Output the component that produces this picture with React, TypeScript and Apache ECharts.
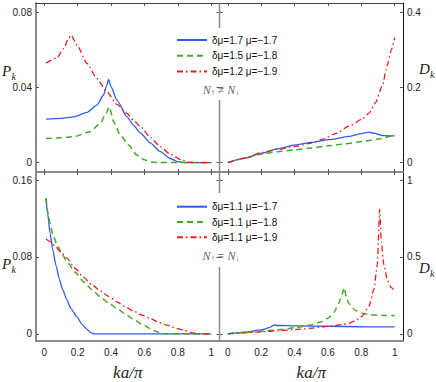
import React, { useEffect, useRef } from "react";
import * as echarts from "echarts";

const TOP_NAMES = ["δμ=1.7 μ=−1.7", "δμ=1.5 μ=−1.8", "δμ=1.2 μ=−1.9"];
const BOTTOM_NAMES = ["δμ=1.1 μ=−1.7", "δμ=1.1 μ=−1.8", "δμ=1.1 μ=−1.9"];
const X_TICKS = [0, 0.2, 0.4, 0.6, 0.8, 1];
const P_TOP_TICKS = [0, 0.04, 0.08];
const D_TOP_TICKS = [0, 0.2, 0.4];
const P_BOTTOM_TICKS = [0, 0.08, 0.16];
const D_BOTTOM_TICKS = [0, 0.5, 1];

// Top panel, P_k (N↑ ≠ N↓)
const pTopBlue: [number, number][] = [
  [0.01, 0.0232], [0.1, 0.0236], [0.176, 0.0244], [0.256, 0.0268], [0.315, 0.0306],
  [0.355, 0.036], [0.375, 0.0413], [0.385, 0.0443], [0.4, 0.0404], [0.435, 0.0333],
  [0.495, 0.0245], [0.535, 0.0198], [0.575, 0.0158], [0.635, 0.0105], [0.695, 0.0058],
  [0.755, 0.0022], [0.8, 0.0005], [0.84, 0], [1.0, 0],
];
const pTopGreen: [number, number][] = [
  [0.01, 0.0129], [0.1, 0.0132], [0.176, 0.0138], [0.275, 0.0164], [0.335, 0.0209],
  [0.365, 0.0253], [0.39, 0.0297], [0.415, 0.0218], [0.455, 0.0147], [0.505, 0.0094],
  [0.555, 0.004], [0.6, 0.0015], [0.64, 0.0003], [0.68, 0], [1.0, 0],
];
const pTopRed: [number, number][] = [
  [0.01, 0.0531], [0.076, 0.0558], [0.116, 0.0608], [0.146, 0.0664], [0.16, 0.0679],
  [0.196, 0.0626], [0.256, 0.0528], [0.315, 0.0448], [0.375, 0.0377], [0.435, 0.031],
  [0.495, 0.0262], [0.535, 0.0225], [0.575, 0.0193], [0.635, 0.0135], [0.695, 0.0085],
  [0.755, 0.0045], [0.82, 0.0015], [0.87, 0.0002], [0.9, 0], [1.0, 0],
];
// Top panel, D_k
const dTopBlue: [number, number][] = [
  [0.0, 0], [0.1, 0.012], [0.206, 0.025], [0.3, 0.037], [0.406, 0.047], [0.5, 0.054],
  [0.606, 0.061], [0.726, 0.07], [0.8, 0.077], [0.846, 0.081], [0.88, 0.078],
  [0.926, 0.072], [1.0, 0.071],
];
const dTopGreen: [number, number][] = [
  [0.0, 0], [0.1, 0.011], [0.206, 0.023], [0.3, 0.029], [0.406, 0.034], [0.5, 0.039],
  [0.606, 0.045], [0.706, 0.05], [0.806, 0.056], [0.9, 0.063], [1.0, 0.074],
];
const dTopRed: [number, number][] = [
  [0.0, 0], [0.1, 0.012], [0.206, 0.027], [0.3, 0.035], [0.406, 0.043], [0.5, 0.052],
  [0.566, 0.062], [0.65, 0.078], [0.726, 0.097], [0.806, 0.116], [0.846, 0.132],
  [0.886, 0.16], [0.926, 0.205], [0.956, 0.26], [0.98, 0.3], [1.0, 0.333],
];
// Bottom panel, P_k (N↑ = N↓)
const pBotBlue: [number, number][] = [
  [0.01, 0.141], [0.02, 0.125], [0.035, 0.104], [0.05, 0.088], [0.07, 0.071],
  [0.09, 0.057], [0.11, 0.046], [0.136, 0.035], [0.16, 0.026], [0.196, 0.0177],
  [0.225, 0.01], [0.256, 0.0046], [0.28, 0.001], [0.3, 0], [1.0, 0],
];
const pBotGreen: [number, number][] = [
  [0.01, 0.141], [0.02, 0.127], [0.034, 0.115], [0.05, 0.104], [0.074, 0.094],
  [0.1, 0.085], [0.136, 0.075], [0.186, 0.064], [0.236, 0.054], [0.285, 0.046],
  [0.335, 0.0385], [0.385, 0.032], [0.435, 0.0264], [0.485, 0.0205], [0.535, 0.015],
  [0.585, 0.01], [0.635, 0.0056], [0.67, 0.0025], [0.7, 0.0005], [0.72, 0], [1.0, 0],
];
const pBotRed: [number, number][] = [
  [0.01, 0.099], [0.034, 0.096], [0.07, 0.09], [0.1, 0.085], [0.136, 0.0785],
  [0.186, 0.068], [0.236, 0.0587], [0.285, 0.051], [0.335, 0.0448], [0.385, 0.039],
  [0.435, 0.0333], [0.485, 0.028], [0.535, 0.0236], [0.585, 0.0195], [0.635, 0.016],
  [0.685, 0.012], [0.735, 0.009], [0.785, 0.006], [0.835, 0.0039], [0.875, 0.0015],
  [0.915, 0], [1.0, 0],
];
// Bottom panel, D_k
const dBotBlue: [number, number][] = [
  [0.0, 0], [0.1, 0.011], [0.2, 0.025], [0.25, 0.04], [0.275, 0.057], [0.3, 0.054],
  [0.4, 0.052], [0.6, 0.049], [0.8, 0.046], [1.0, 0.045],
];
const dBotGreen: [number, number][] = [
  [0.0, 0], [0.1, 0.008], [0.206, 0.017], [0.326, 0.028], [0.406, 0.04], [0.5, 0.058],
  [0.566, 0.08], [0.606, 0.105], [0.636, 0.14], [0.666, 0.2], [0.686, 0.26],
  [0.698, 0.3], [0.71, 0.24], [0.726, 0.195], [0.766, 0.152], [0.806, 0.134],
  [0.846, 0.125], [0.926, 0.119], [1.0, 0.118],
];
const dBotRed: [number, number][] = [
  [0.0, 0], [0.1, 0.006], [0.206, 0.013], [0.306, 0.02], [0.406, 0.028], [0.506, 0.037],
  [0.606, 0.048], [0.686, 0.06], [0.726, 0.069], [0.766, 0.085], [0.806, 0.115],
  [0.846, 0.18], [0.876, 0.29], [0.896, 0.45], [0.91, 0.81], [0.92, 0.6],
  [0.935, 0.45], [0.956, 0.35], [0.98, 0.3], [1.0, 0.28],
];

const COLORS = ["#2f5cf5", "#45a82a", "#f01c1c"];
const DASHES: any[] = ["solid", [6, 4], [6, 3, 1.5, 3]];
const WIDTHS = [1.3, 1.5, 1.3];

const SANS = '"Liberation Sans", Arial, sans-serif';
const SERIF = '"Liberation Serif", "Times New Roman", serif';
const GRAY = "#8a8a8a";

const GL = 36;
const GM = 219.5;
const GW = 183.5;
const GH = 169;
const TOP1 = 3;
const TOP2 = 172;

function xAxis(gi: number, pos: string, o: any) {
  return {
    type: "value",
    gridIndex: gi,
    position: pos,
    min: -0.05,
    max: 1.05,
    splitLine: { show: false },
    axisLine: { show: o.line !== undefined, onZero: false, lineStyle: o.line || {} },
    axisTick: {
      show: !!o.tick,
      inside: true,
      length: 3,
      customValues: X_TICKS,
      lineStyle: { color: "#555", width: 1 },
    },
    axisLabel: {
      show: !!o.label,
      customValues: X_TICKS,
      margin: 6,
      fontSize: 10,
      fontFamily: SANS,
      color: "#222",
    },
    name: o.name || "",
    nameLocation: "middle",
    nameGap: 23,
    nameTextStyle: { fontFamily: SERIF, fontStyle: "italic", fontSize: 17, color: "#222" },
  };
}

function yAxis(gi: number, pos: string, min: number, max: number, ticks: number[], o: any) {
  return {
    type: "value",
    gridIndex: gi,
    position: pos,
    min,
    max,
    splitLine: { show: false },
    axisLine: { show: o.line !== undefined, onZero: false, lineStyle: o.line || {} },
    axisTick: {
      show: true,
      inside: true,
      length: 3,
      customValues: ticks,
      lineStyle: { color: "#555", width: 1 },
    },
    axisLabel: {
      show: !!o.label,
      customValues: ticks,
      margin: 4,
      fontSize: 10,
      fontFamily: SANS,
      color: "#222",
    },
  };
}

function line(name: string, data: [number, number][], xi: number, yi: number, k: number) {
  return {
    type: "line",
    name,
    data,
    xAxisIndex: xi,
    yAxisIndex: yi,
    symbol: "none",
    showSymbol: false,
    smooth: 0.2,
    smoothMonotone: "x",
    lineStyle: { color: COLORS[k], width: WIDTHS[k], type: DASHES[k] },
    itemStyle: { color: COLORS[k] },
    z: 3 + k,
  };
}

function legend(names: string[], top: number, gap: number) {
  return {
    data: names,
    orient: "vertical",
    left: 176,
    top,
    padding: 0,
    itemWidth: 30,
    itemHeight: 12,
    itemGap: gap,
    selectedMode: false,
    itemStyle: { opacity: 0 },
    textStyle: { fontSize: 10, fontFamily: SANS, color: "#111", lineHeight: 12 },
  };
}

function label(txt: string, sub: string, x: number, y: number) {
  return [
    {
      type: "text",
      x,
      y,
      style: {
        text: txt,
        font: `italic 15px ${SERIF}`,
        fill: "#222",
        textVerticalAlign: "middle",
      },
    },
    {
      type: "text",
      x: x + (txt === "D" ? 11 : 9.5),
      y: y + 5,
      style: {
        text: sub,
        font: `italic 10px ${SERIF}`,
        fill: "#222",
        textVerticalAlign: "middle",
      },
    },
  ];
}

function nText(rel: string, cy: number) {
  return {
    type: "text",
    x: 221,
    y: cy,
    style: {
      text: `{n|N}{s|↑}{o| ${rel} }{n|N}{s|↓}`,
      textAlign: "center",
      textVerticalAlign: "middle",
      fill: "#666",
      rich: {
        n: { fontFamily: SERIF, fontStyle: "italic", fontSize: 12, fill: "#666" },
        s: { fontFamily: SERIF, fontSize: 8, fill: "#666", padding: [5, 0, 0, 0] },
        o: { fontFamily: SERIF, fontSize: 12, fill: "#666" },
      },
    },
  };
}

function vseg(y1: number, y2: number) {
  return {
    type: "line",
    shape: { x1: GM, y1, x2: GM, y2 },
    style: { stroke: GRAY, lineWidth: 1.5 },
    z: 10,
  };
}

export default function App() {
  const ref = useRef<HTMLDivElement>(null);
  useEffect(() => {
    if (!ref.current) return;
    const chart = echarts.init(ref.current, undefined, { renderer: "svg" });
    const sepLine = { color: GRAY, width: 2 };
    const option: any = {
      animation: false,
      backgroundColor: "#fff",
      grid: [
        { left: GL, top: TOP1, width: GW, height: GH },
        { left: GM, top: TOP1, width: GW, height: GH },
        { left: GL, top: TOP2, width: GW, height: GH },
        { left: GM, top: TOP2, width: GW, height: GH },
      ],
      xAxis: [
        xAxis(0, "bottom", { line: sepLine, tick: true }),
        xAxis(0, "top", { line: { color: "#444", width: 1 }, tick: true }),
        xAxis(1, "bottom", { line: sepLine, tick: true }),
        xAxis(1, "top", { line: { color: "#444", width: 1 }, tick: true }),
        xAxis(2, "bottom", { line: sepLine, label: true, name: "ka/π" }),
        xAxis(2, "top", { tick: true }),
        xAxis(3, "bottom", { line: sepLine, label: true, name: "ka/π" }),
        xAxis(3, "top", { tick: true }),
      ],
      yAxis: [
        yAxis(0, "left", -0.005, 0.085, P_TOP_TICKS, { line: sepLine, label: true }),
        yAxis(0, "right", -0.005, 0.085, P_TOP_TICKS, {}),
        yAxis(1, "right", -0.025, 0.425, D_TOP_TICKS, { line: { color: "#111", width: 1 }, label: true }),
        yAxis(1, "left", -0.025, 0.425, D_TOP_TICKS, {}),
        yAxis(2, "left", -0.0075, 0.1685, P_BOTTOM_TICKS, { line: sepLine, label: true }),
        yAxis(2, "right", -0.0075, 0.1685, P_BOTTOM_TICKS, {}),
        yAxis(3, "right", -0.0469, 1.0531, D_BOTTOM_TICKS, { line: { color: "#111", width: 1 }, label: true }),
        yAxis(3, "left", -0.0469, 1.0531, D_BOTTOM_TICKS, {}),
      ],
      legend: [legend(TOP_NAMES, 34, 3.8), legend(BOTTOM_NAMES, 200.7, 3.3)],
      series: [
        line(TOP_NAMES[0], pTopBlue, 0, 0, 0),
        line(TOP_NAMES[1], pTopGreen, 0, 0, 1),
        line(TOP_NAMES[2], pTopRed, 0, 0, 2),
        line(TOP_NAMES[0], dTopBlue, 2, 2, 0),
        line(TOP_NAMES[1], dTopGreen, 2, 2, 1),
        line(TOP_NAMES[2], dTopRed, 2, 2, 2),
        line(BOTTOM_NAMES[0], pBotBlue, 4, 4, 0),
        line(BOTTOM_NAMES[1], pBotGreen, 4, 4, 1),
        line(BOTTOM_NAMES[2], pBotRed, 4, 4, 2),
        line(BOTTOM_NAMES[0], dBotBlue, 6, 6, 0),
        line(BOTTOM_NAMES[1], dBotGreen, 6, 6, 1),
        line(BOTTOM_NAMES[2], dBotRed, 6, 6, 2),
      ],
      graphic: [
        vseg(TOP1, 28),
        vseg(100, 193),
        vseg(267, TOP2 + GH),
        ...label("P", "k", 2, 71),
        ...label("D", "k", 419, 69),
        ...label("P", "k", 2, 264),
        ...label("D", "k", 419, 268),
        nText("≠", 90),
        nText("=", 256),
      ],
    };
    chart.setOption(option);
    return () => chart.dispose();
  }, []);
  return (
    <div
      ref={ref}
      style={{ position: "fixed", left: 0, top: 0, width: 436, height: 382 }}
    />
  );
}
